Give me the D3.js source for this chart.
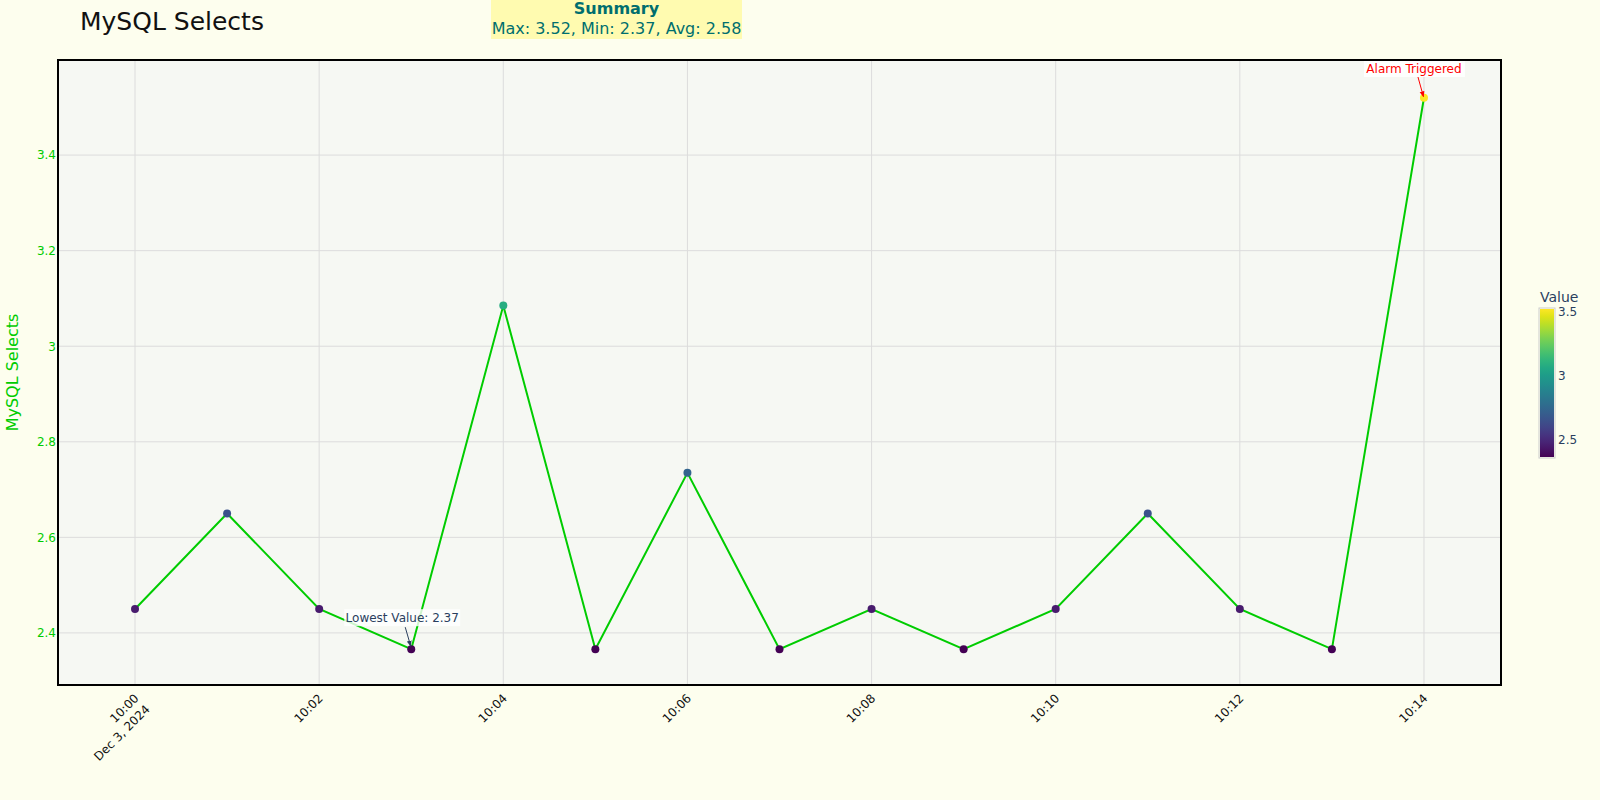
<!DOCTYPE html>
<html>
<head>
<meta charset="utf-8">
<script src="https://cdn.jsdelivr.net/npm/d3@7"></script>
<style>
  html, body { margin: 0; padding: 0; background: #fdfeee; }
  svg { display: block; font-family: "DejaVu Sans", sans-serif; }
</style>
</head>
<body>
<svg id="chart" width="1600" height="800"></svg>
<script>
// ---- data ----
const times = ["10:00","10:01","10:02","10:03","10:04","10:05","10:06","10:07","10:08","10:09","10:10","10:11","10:12","10:13","10:14"];
const values = [2.45, 2.65, 2.45, 2.366, 3.085, 2.366, 2.735, 2.366, 2.45, 2.366, 2.45, 2.65, 2.45, 2.366, 3.52];
const yTicks = [2.4, 2.6, 2.8, 3.0, 3.2, 3.4];
const yTickLabels = ["2.4", "2.6", "2.8", "3", "3.2", "3.4"];
const xTickTimes = ["10:00","10:02","10:04","10:06","10:08","10:10","10:12","10:14"];
const colorbarTicks = [2.5, 3, 3.5];
const dateLabel = "Dec 3, 2024";
const titleText = "MySQL Selects";

const parse = t => new Date(2024, 11, 3, +t.split(":")[0], +t.split(":")[1]);
const data = times.map((t, i) => ({ t: parse(t), v: values[i] }));

const vMax = d3.max(values), vMin = d3.min(values), vAvg = d3.mean(values);

// ---- layout ----
const W = 1600, H = 800;
const L = 58, R = 1501, T = 60, B = 685;
const green = "#00cc00";
const svg = d3.select("#chart");

svg.append("rect").attr("width", W).attr("height", H).attr("fill", "#fdfeee");

const padMs = 50.2 * 1000;
const x = d3.scaleTime()
  .domain([new Date(data[0].t.getTime() - padMs), new Date(data[data.length - 1].t.getTime() + padMs)])
  .range([L, R]);
const y = d3.scaleLinear().domain([2.291, 3.599]).range([B, T]);
const color = d3.scaleSequential(d3.interpolateViridis).domain([vMin, vMax]);

// plot background
svg.append("rect").attr("x", L).attr("y", T).attr("width", R - L).attr("height", B - T).attr("fill", "#f6f8f3");

// grid
const grid = svg.append("g");
grid.selectAll(".vg").data(xTickTimes.map(parse)).join("line")
  .attr("x1", d => x(d)).attr("x2", d => x(d)).attr("y1", T).attr("y2", B)
  .attr("stroke", "#dcdcdc").attr("stroke-width", 1);
grid.selectAll(".hg").data(yTicks).join("line")
  .attr("x1", L).attr("x2", R).attr("y1", d => y(d)).attr("y2", d => y(d))
  .attr("stroke", "#dcdcdc").attr("stroke-width", 1);

// y axis
const yAxis = d3.axisLeft(y).tickValues(yTicks).tickFormat((d, i) => yTickLabels[i]).tickSize(0).tickPadding(2);
const gy = svg.append("g").attr("transform", `translate(${L},0)`).call(yAxis);
gy.select(".domain").remove();
gy.selectAll("text").attr("fill", green).attr("font-size", 12).attr("font-family", "DejaVu Sans");

// x axis
const xAxis = d3.axisBottom(x).tickValues(xTickTimes.map(parse)).tickFormat(d3.timeFormat("%H:%M")).tickSize(0);
const gx = svg.append("g").attr("transform", `translate(0,${B})`).call(xAxis);
gx.select(".domain").remove();
gx.selectAll(".tick text")
  .attr("font-size", 12).attr("font-family", "DejaVu Sans").attr("fill", "#111")
  .attr("text-anchor", "end")
  .attr("y", 0).attr("dy", 0)
  .attr("transform", "translate(4,14) rotate(-45)")
  .each(function(d, i) {
    if (i === 0) {
      const t = d3.select(this);
      const label = t.text();
      t.text(null);
      t.append("tspan").attr("x", 0).attr("dy", 0).text(label);
      t.append("tspan").attr("x", 0).attr("dy", "1.3em").text(dateLabel);
    }
  });

// border
svg.append("rect").attr("x", L).attr("y", T).attr("width", R - L).attr("height", B - T)
  .attr("fill", "none").attr("stroke", "#000").attr("stroke-width", 2);

// line
const line = d3.line().x(d => x(d.t)).y(d => y(d.v));
svg.append("path").datum(data).attr("d", line)
  .attr("fill", "none").attr("stroke", green).attr("stroke-width", 2);

// markers
svg.selectAll(".pt").data(data).join("circle")
  .attr("cx", d => x(d.t)).attr("cy", d => y(d.v)).attr("r", 4)
  .attr("fill", d => color(d.v));

// y title
svg.append("text").attr("transform", `translate(18,${(T + B) / 2}) rotate(-90)`)
  .attr("text-anchor", "middle").attr("font-size", 16).attr("fill", green).text("MySQL Selects");

// title
svg.append("text").attr("x", 80).attr("y", 29.5).attr("font-size", 25).attr("fill", "#111").text(titleText);

// summary box
svg.append("rect").attr("x", 491).attr("y", -4).attr("width", 251).attr("height", 43).attr("fill", "#fffbb0");
svg.append("text").attr("x", 616.5).attr("y", 14).attr("text-anchor", "middle").attr("font-size", 16)
  .attr("font-weight", "bold").attr("fill", "#006e6e").text("Summary");
svg.append("text").attr("x", 616.5).attr("y", 33.5).attr("text-anchor", "middle").attr("font-size", 16)
  .attr("fill", "#006e6e")
  .text(`Max: ${vMax.toFixed(2)}, Min: ${vMin.toFixed(2)}, Avg: ${vAvg.toFixed(2)}`);

// arrowheads
const defs = svg.append("defs");
function marker(id, col) {
  defs.append("marker").attr("id", id).attr("viewBox", "0 0 10 10").attr("refX", 9).attr("refY", 5)
    .attr("markerWidth", 6).attr("markerHeight", 6).attr("orient", "auto")
    .append("path").attr("d", "M0,1 L10,5 L0,9 Z").attr("fill", col);
}
marker("arRed", "#ff0000");
marker("arDark", "#2a3f5f");

// alarm annotation
const maxPt = data[values.indexOf(vMax)];
const ax = x(maxPt.t), ay = y(maxPt.v);
svg.append("rect").attr("x", ax - 60).attr("y", T + 1).attr("width", 101).attr("height", 16)
  .attr("fill", "#ffffff").attr("opacity", 0.9);
svg.append("text").attr("x", ax - 10).attr("y", T + 13).attr("text-anchor", "middle").attr("font-size", 12)
  .attr("fill", "#ff0000").text("Alarm Triggered");
svg.append("line").attr("x1", ax - 6).attr("y1", T + 17).attr("x2", ax - 0.5).attr("y2", ay - 1)
  .attr("stroke", "#ff0000").attr("stroke-width", 1).attr("marker-end", "url(#arRed)");

// lowest annotation
const minPt = data[values.indexOf(vMin)];
const mx = x(minPt.t), my = y(minPt.v);
svg.append("rect").attr("x", mx - 67).attr("y", my - 40).attr("width", 116).attr("height", 17)
  .attr("fill", "#ffffff").attr("opacity", 0.8);
svg.append("text").attr("x", mx - 9).attr("y", my - 27).attr("text-anchor", "middle").attr("font-size", 12)
  .attr("fill", "#2a3f5f").text(`Lowest Value: ${vMin.toFixed(2)}`);
svg.append("line").attr("x1", mx - 6).attr("y1", my - 22).attr("x2", mx - 0.5).attr("y2", my - 3)
  .attr("stroke", "#2a3f5f").attr("stroke-width", 1).attr("marker-end", "url(#arDark)");

// colorbar
const cbX = 1540, cbW = 14, cbTop = 309, cbBot = 457;
const cy = d3.scaleLinear().domain([vMin, vMax]).range([cbBot, cbTop]);
const grad = defs.append("linearGradient").attr("id", "cbGrad").attr("x1", 0).attr("x2", 0).attr("y1", 1).attr("y2", 0);
d3.range(0, 1.0001, 0.05).forEach(s => grad.append("stop").attr("offset", s).attr("stop-color", d3.interpolateViridis(s)));
svg.append("rect").attr("x", cbX - 1).attr("y", cbTop - 1).attr("width", cbW + 2).attr("height", cbBot - cbTop + 2)
  .attr("fill", "none").attr("stroke", "#cccccc").attr("stroke-width", 1);
svg.append("rect").attr("x", cbX).attr("y", cbTop).attr("width", cbW).attr("height", cbBot - cbTop).attr("fill", "url(#cbGrad)");
const cbAxis = d3.axisRight(cy).tickValues(colorbarTicks).tickFormat(d3.format("")).tickSize(0).tickPadding(4);
const gcb = svg.append("g").attr("transform", `translate(${cbX + cbW},0)`).call(cbAxis);
gcb.select(".domain").remove();
gcb.selectAll("text").attr("font-size", 12).attr("font-family", "DejaVu Sans").attr("fill", "#2a3f5f");
svg.append("text").attr("x", cbX).attr("y", 302).attr("font-size", 14).attr("fill", "#2a3f5f").text("Value");
</script>
</body>
</html>
